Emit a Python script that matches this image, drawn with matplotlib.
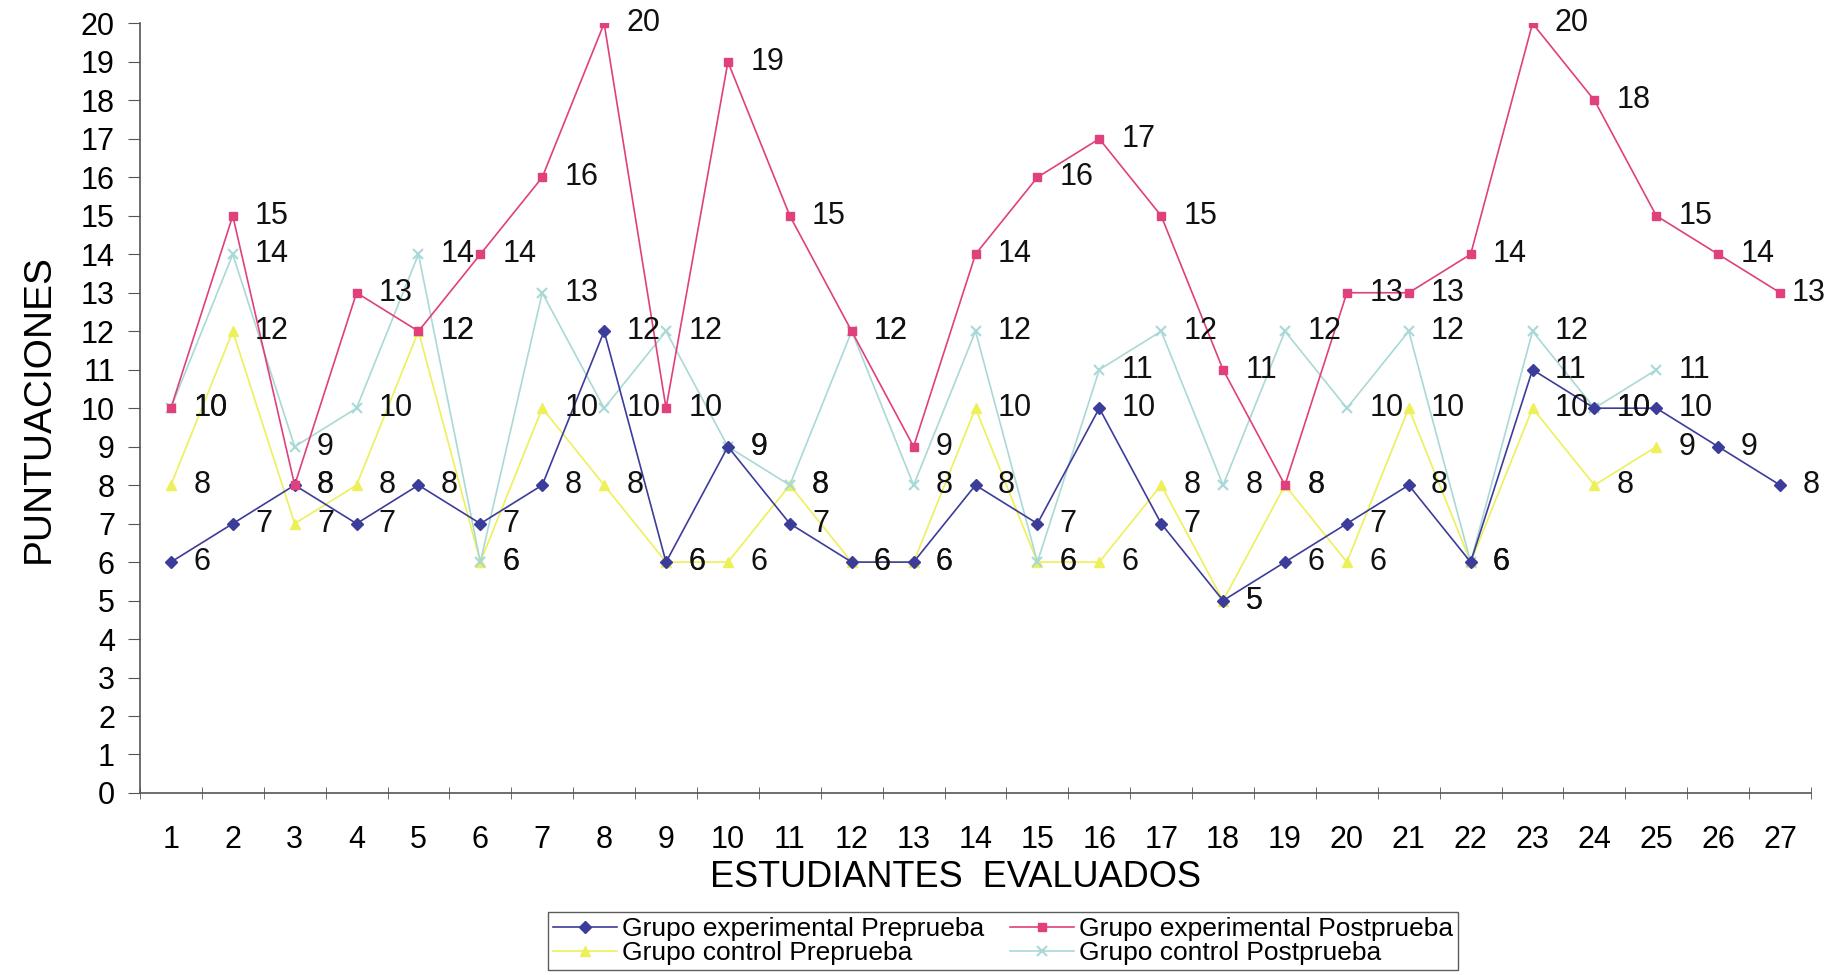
import matplotlib
matplotlib.use("Agg")
from matplotlib import pyplot as plt
import numpy as np

plt.rcParams['font.family'] = ['Liberation Sans', 'DejaVu Sans']

# puntuaciones por estudiante
estudiantes = list(range(1, 28))
exp_pre = [6, 7, 8, 7, 8, 7, 8, 12, 6, 9, 7, 6, 6, 8, 7, 10, 7, 5, 6, 7, 8, 6, 11, 10, 10, 9, 8]
exp_post = [10, 15, 8, 13, 12, 14, 16, 20, 10, 19, 15, 12, 9, 14, 16, 17, 15, 11, 8, 13, 13, 14, 20, 18, 15, 14, 13]
ctrl_pre = [8, 12, 7, 8, 12, 6, 10, 8, 6, 6, 8, 6, 6, 10, 6, 6, 8, 5, 8, 6, 10, 6, 10, 8, 9]
ctrl_post = [10, 14, 9, 10, 14, 6, 13, 10, 12, 9, 8, 12, 8, 12, 6, 11, 12, 8, 12, 10, 12, 6, 12, 10, 11]

series = [
    ("Grupo experimental Preprueba", exp_pre, "#3c3c9a", "D", 6),
    ("Grupo control Preprueba", ctrl_pre, "#eef05a", "^", 7),
    ("Grupo experimental Postprueba", exp_post, "#e0407c", "s", 6),
    ("Grupo control Postprueba", ctrl_post, "#a9d9d6", "x", 7),
]

fig = plt.figure(figsize=(18.34, 9.75), dpi=100)
ax = fig.add_axes([0.0763, 0.1867, 0.9112, 0.7893])

# control detras, experimental delante
for name, vals, col, mk, ms in [series[1], series[3], series[0], series[2]]:
    xs = estudiantes[:len(vals)]
    ax.plot(xs, vals, color=col, marker=mk, markersize=ms, linewidth=1.2,
            markeredgewidth=1.5 if mk == "x" else 1, label=name)
    for x, v in zip(xs, vals):
        # la etiqueta del ultimo punto se pega al marcador para que quepa
        off = 0.36 if (x < 27 or v < 10) else 0.18
        ax.text(x + off, v, str(v), fontsize=22, va="center", ha="left",
                color="#111111", clip_on=False)

ax.set_xlim(0.5, 27.5)
ax.set_ylim(0, 20)
ax.set_yticks(range(0, 21))
ax.set_xticks(estudiantes)
ax.set_xticks(np.arange(0.5, 28, 1), minor=True)
ax.tick_params(axis="x", which="major", length=0, labelsize=22, pad=23)
ax.tick_params(axis="x", which="minor", length=8, direction="inout", color="#555555")
ax.tick_params(axis="y", length=9, labelsize=22, color="#555555", pad=9)
for s in ["top", "right"]:
    ax.spines[s].set_visible(False)
for s in ["left", "bottom"]:
    ax.spines[s].set_color("#555555")
    ax.spines[s].set_linewidth(1.2)

ax.set_xlabel("ESTUDIANTES  EVALUADOS", fontsize=26, labelpad=4)
ax.xaxis.label.set_x(0.488)
ax.set_ylabel("PUNTUACIONES", fontsize=28, labelpad=17)

h, l = ax.get_legend_handles_labels()
orden = ["Grupo experimental Preprueba", "Grupo control Preprueba",
         "Grupo experimental Postprueba", "Grupo control Postprueba"]
hh = [h[l.index(n)] for n in orden]
leg = fig.legend(hh, orden, loc="center", bbox_to_anchor=(0.547, 0.035), ncol=2,
                 frameon=True, fancybox=False, edgecolor="#333333",
                 labelspacing=0.0, columnspacing=1.0, handlelength=2.4, handletextpad=0.2,
                 borderpad=0.2, prop={"family": ["Liberation Sans Narrow", "Liberation Sans"], "size": 19})
leg.get_frame().set_linewidth(1.0)

fig.savefig("out.png", dpi=100)
